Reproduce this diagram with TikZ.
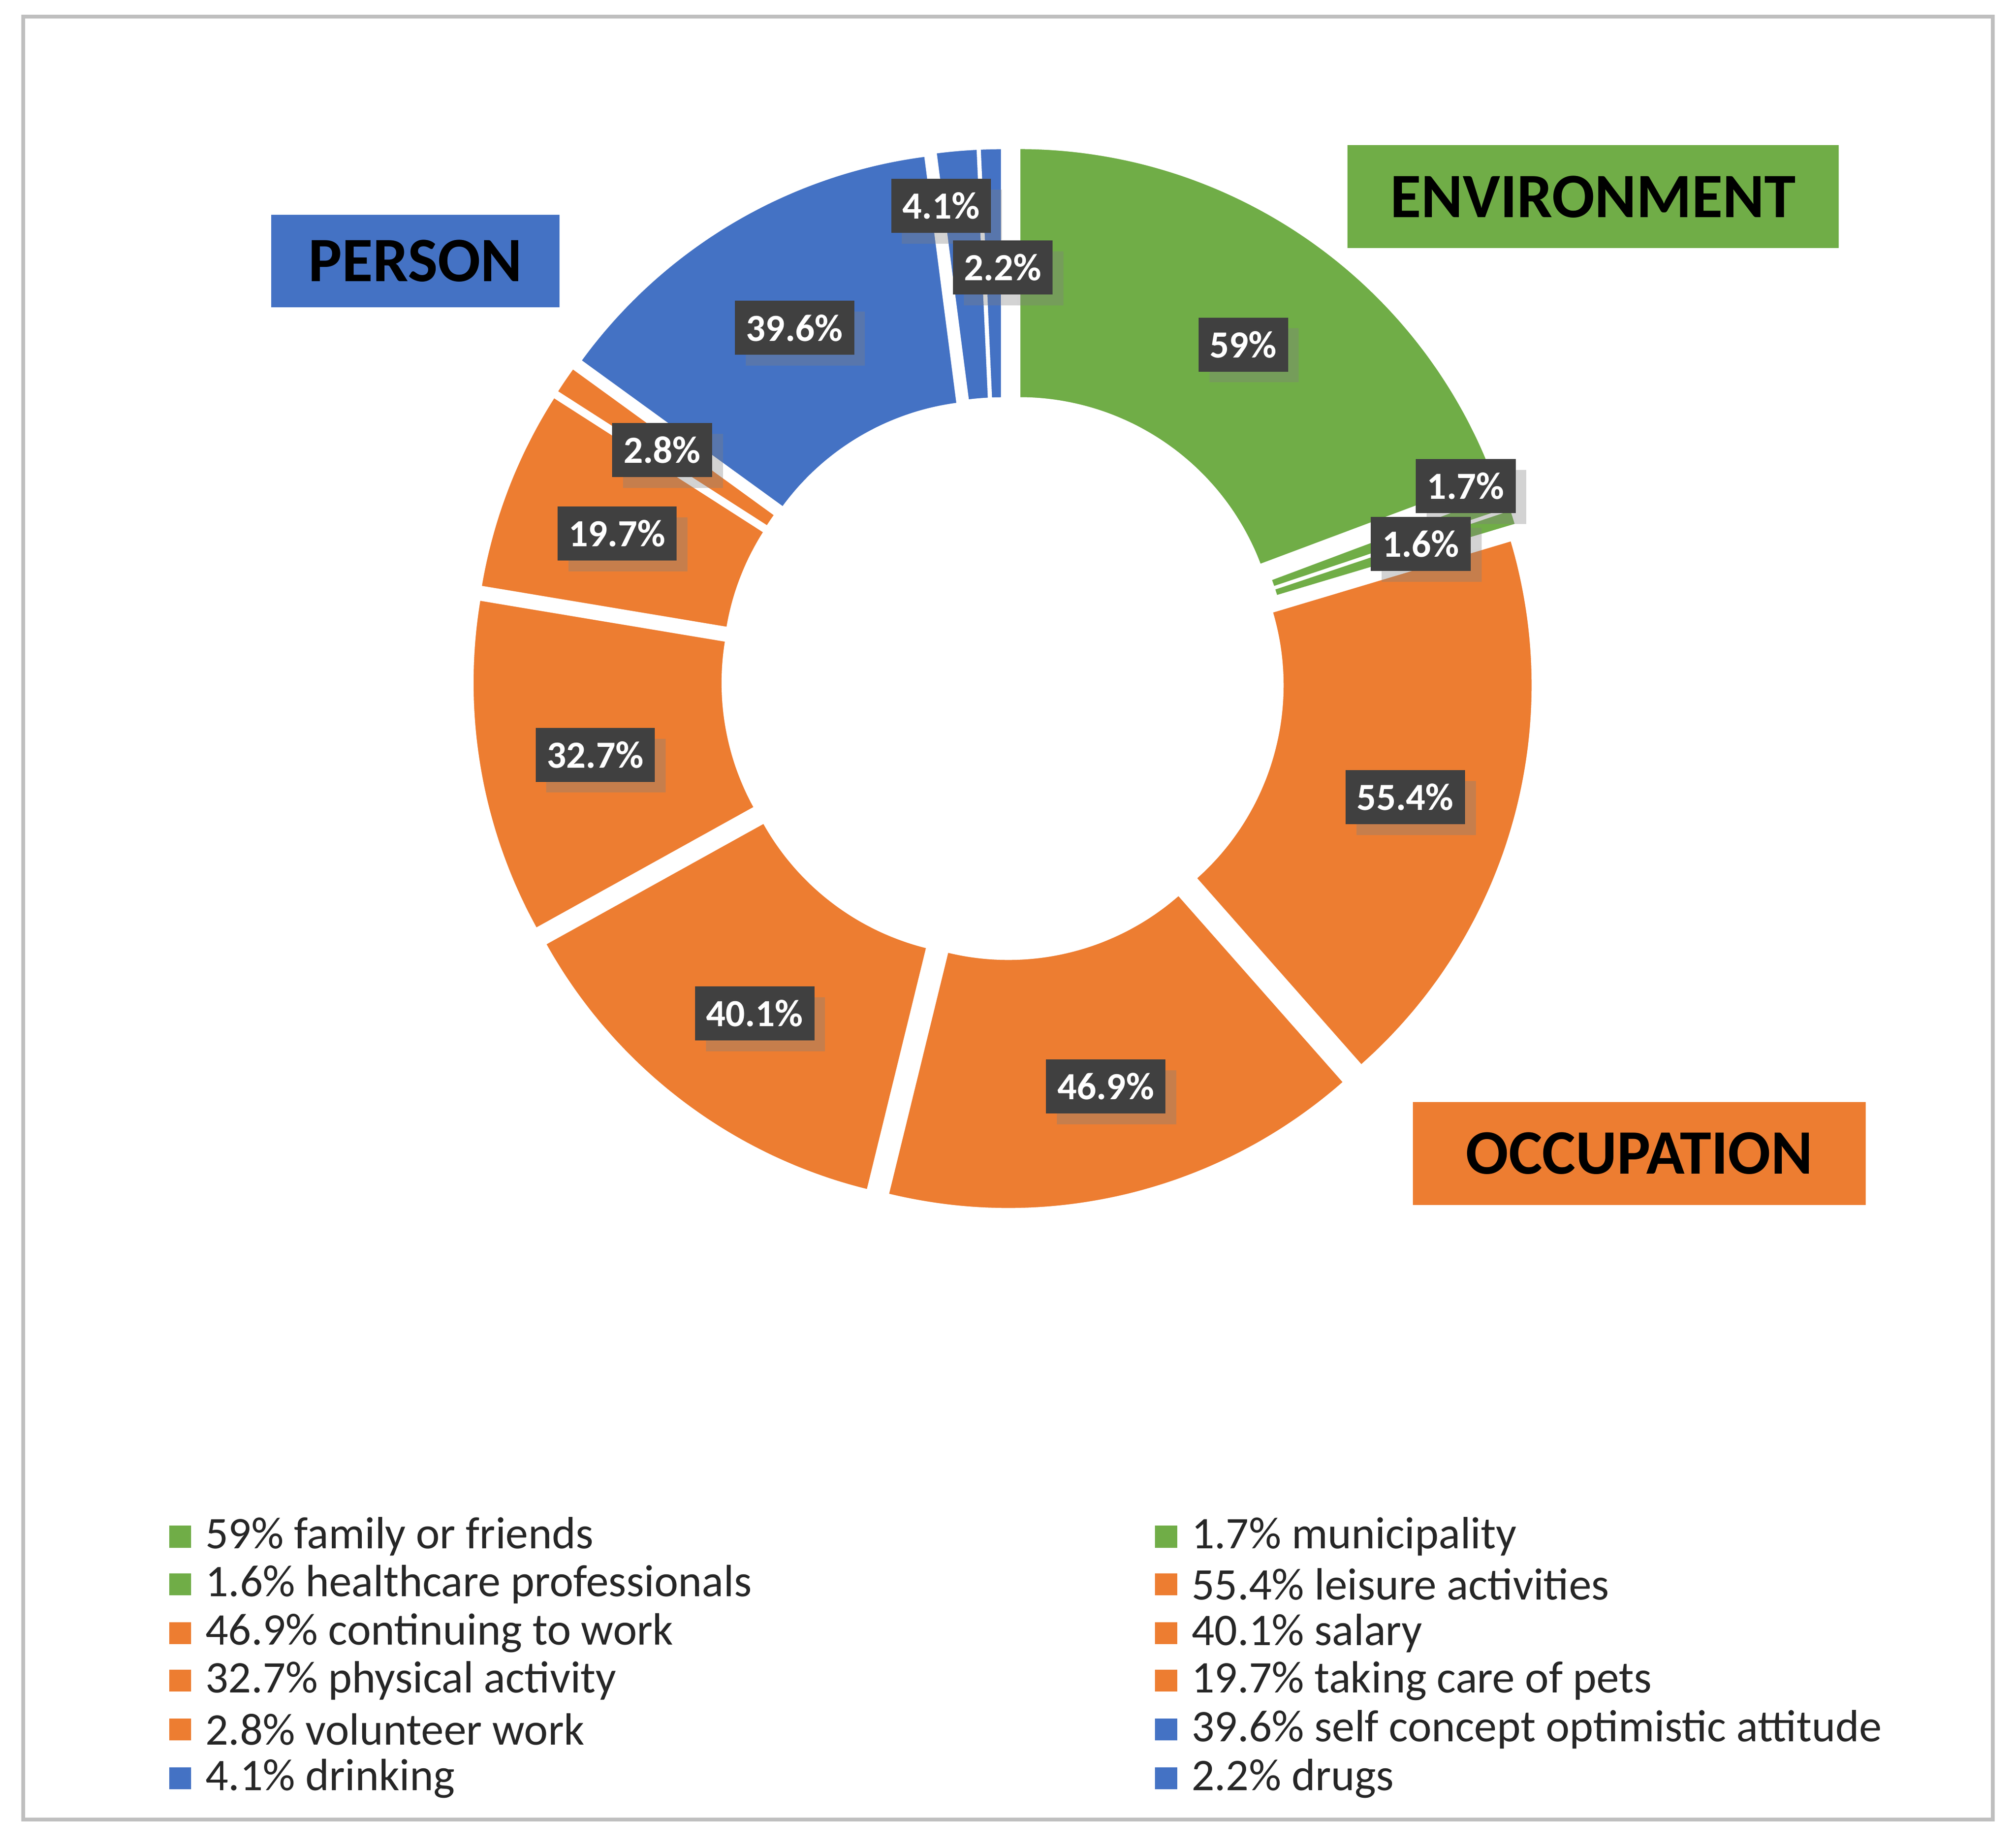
\documentclass[tikz,border=0pt]{standalone}
\usepackage{fontspec}
\setmainfont{Carlito}
\usepackage{tikz}
\usetikzlibrary{positioning,shadows}

\definecolor{envgreen}{HTML}{70AD47}
\definecolor{occorange}{HTML}{ED7D31}
\definecolor{perblue}{HTML}{4472C4}
\definecolor{tagdark}{HTML}{404040}
\definecolor{framegray}{HTML}{BFBFBF}

\begin{document}
\begin{tikzpicture}[
    x=0.01cm, y=0.01cm,
    wedge/.style={draw=white, line width=0.6pt},
    tag/.style={fill=tagdark, text=white, font=\fontsize{8.5}{10}\selectfont\bfseries,
        inner sep=2.5pt, minimum height=0.42cm, drop shadow={opacity=0.35}},
    group/.style={font=\fontsize{14}{16}\selectfont\bfseries, text=black,
        inner sep=0pt, minimum height=0.8cm},
    key/.style={minimum size=0.17cm, inner sep=0pt},
    keytext/.style={font=\fontsize{10}{12}\selectfont, text=black!85, inner sep=0pt, anchor=west}
]
\useasboundingbox (0,0) rectangle (1568,1437);
\draw[framegray, line width=0.8pt] (18,22) rectangle (1550,1424);

% === Donut ===
\def\angA{90}
\foreach \v/\c/\ex in {59/envgreen/22, 1.7/envgreen/22, 1.6/envgreen/22,
    55.4/occorange/18, 46.9/occorange/18, 40.1/occorange/18, 32.7/occorange/18,
    19.7/occorange/18, 2.8/occorange/18, 39.6/perblue/18, 4.1/perblue/18, 2.2/perblue/18} {
    \pgfmathsetmacro\angB{\angA-\v*1.17724}
    \pgfmathsetmacro\angM{(\angA+\angB)/2}
    \begin{scope}[shift={(780,909)}, shift={(\angM:\ex)}]
        \fill[\c, wedge] (\angA:395) arc[start angle=\angA, end angle=\angB, radius=395]
            -- (\angB:200) arc[start angle=\angB, end angle=\angA, radius=200] -- cycle;
    \end{scope}
    \xdef\angA{\angB}
}

% Value tags
\foreach \name/\x/\y/\txt in {t1/967/1169/59\%, t2/1140/1059/1.7\%, t3/1105/1014/1.6\%,
    t4/1093/817/55.4\%, t5/860/592/46.9\%, t6/587/649/40.1\%, t7/463/850/32.7\%,
    t8/480/1022/19.7\%, t9/515/1087/2.8\%, t10/618/1182/39.6\%, t11/732/1277/4.1\%,
    t12/780/1229/2.2\%} {
    \node[tag] (\name) at (\x,\y) {\txt};
}

% Group boxes
\node[group, fill=envgreen, minimum width=3.82cm] (env) at (1239,1284) {ENVIRONMENT};
\node[group, fill=perblue, minimum width=2.24cm, minimum height=0.72cm] (per) at (323,1234) {PERSON};
\node[group, fill=occorange, minimum width=3.52cm] (occ) at (1275,540) {OCCUPATION};

% === Legend ===
\foreach \i/\x/\y/\c/\txt in {
    1/140/242/envgreen/59\% family or friends,
    2/907/242/envgreen/1.7\% municipality/local associations,
    3/140/205/envgreen/1.6\% healthcare professionals,
    4/907/205/occorange/55.4\% leisure activities,
    5/140/167/occorange/46.9\% continuing to work,
    6/907/167/occorange/40.1\% salary,
    7/140/130/occorange/32.7\% physical activity,
    8/907/130/occorange/19.7\% taking care of pets,
    9/140/92/occorange/2.8\% volunteer work,
    10/907/92/perblue/39.6\% self concept optimistic attitude,
    11/140/54/perblue/4.1\% drinking/smoking,
    12/907/54/perblue/2.2\% drugs} {
    \node[key, fill=\c] (k\i) at (\x,\y) {};
    \node[keytext, right=0.1cm of k\i] (kt\i) {\txt};
}

\end{tikzpicture}
\end{document}
